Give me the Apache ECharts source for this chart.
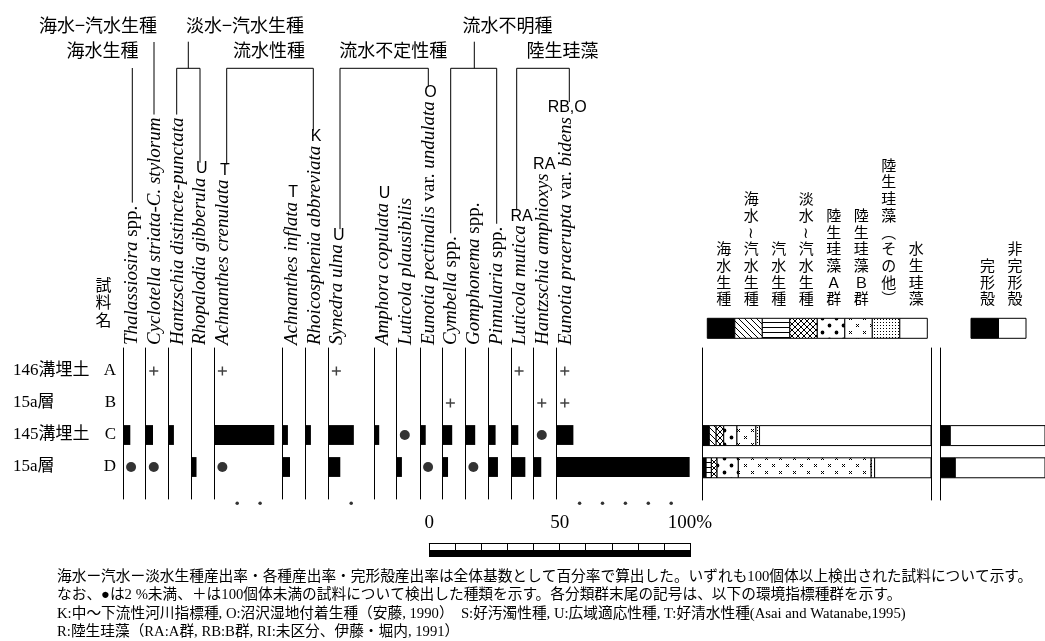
<!DOCTYPE html>
<html lang="ja">
<head>
<meta charset="UTF-8">
<title>珪藻化石群集</title>
<script src="https://cdn.jsdelivr.net/npm/echarts@6/dist/echarts.min.js"></script>
<style>
    body { margin: 0; padding: 0; background: #fff; overflow: hidden; }
    #chart { width: 1045px; height: 641px; }
</style>
</head>
<body>
<div id="chart"></div>
<script>
// ---- data ----
const sampleCodes = ['A', 'B', 'C', 'D'];
const sampleNames = ['146溝埋土', '15a層', '145溝埋土', '15a層'];
const speciesNames = [
    '{i|Thalassiosira} spp.',
    '{i|Cyclotella striata-C. stylorum}',
    '{i|Hantzschia distincte-punctata}',
    '{i|Rhopalodia gibberula}',
    '{i|Achnanthes crenulata}',
    '{i|Achnanthes inflata}',
    '{i|Rhoicosphenia abbreviata}',
    '{i|Synedra ulna}',
    '{i|Amphora copulata}',
    '{i|Luticola plausibilis}',
    '{i|Eunotia pectinalis} var. {i|undulata}',
    '{i|Cymbella} spp.',
    '{i|Gomphonema} spp.',
    '{i|Pinnularia} spp.',
    '{i|Luticola mutica}',
    '{i|Hantzschia amphioxys}',
    '{i|Eunotia praerupta} var. {i|bidens}'
];
const speciesMarks = ['', '', '', 'U', 'T', 'T', 'K', 'U', 'U', '', 'O', '', '', '', 'RA', 'RA', 'RB,O'];
// %, '●' = under 2 %, '+' = found in sample with < 100 valves
const sampleA = ['', '+', '', '', '+', '', '', '+', '', '', '', '', '', '', '+', '', '+'];
const sampleB = ['', '', '', '', '', '', '', '', '', '', '', '+', '', '', '', '+', '+'];
const sampleC = [2.8, 2.8, 2.0, '', 23.0, 2.0, 2.0, 9.8, 2.0, '●', 2.2, 3.8, 3.8, 2.8, 2.8, '●', 6.4];
const sampleD = ['●', '●', '', 2.0, '●', 2.8, '', 4.6, '', 2.0, '●', 2.2, '●', 3.7, 5.5, 2.9, 51.0];
const slotDots = [0, 0, 0, 0, 2, 0, 0, 1, 0, 0, 0, 0, 0, 0, 0, 0, 5];

const groupNames = ['海水生種', '海水〜汽水生種', '汽水生種', '淡水〜汽水生種', '陸生珪藻A群', '陸生珪藻B群', '陸生珪藻(その他)', '水生珪藻'];
const groupC = [2.9, 3.0, 0, 3.3, 5.8, 8.3, 1.6, 75.1];
const groupD = [1.5, 0, 2.3, 2.5, 9.3, 58.2, 1.5, 24.7];
const shellNames = ['完形殻', '非完形殻'];
const shellC = [9.2, 90.8];
const shellD = [14.0, 86.0];
const scaleLabels = { 0: '0', 50: '50', 100: '100%' };

const headers = [
    { name: '海水−汽水生種', x: 98, y: 25, members: [1], from: 42 },
    { name: '海水生種', x: 102.5, y: 50, members: [0], from: 68 },
    { name: '淡水−汽水生種', x: 245, y: 25, members: [2, 3], stem: 188.3 },
    { name: '流水性種', x: 269, y: 50, members: [4, 6] },
    { name: '流水不定性種', x: 393.3, y: 50, members: [7, 10] },
    { name: '流水不明種', x: 507.5, y: 25, members: [11, 13], stem: 474.3 },
    { name: '陸生珪藻', x: 562.5, y: 50, members: [14, 16] }
];
const notes = [
    '海水ー汽水ー淡水生種産出率・各種産出率・完形殻産出率は全体基数として百分率で算出した。いずれも100個体以上検出された試料について示す。',
    'なお、●は2 %未満、＋は100個体未満の試料について検出した種類を示す。各分類群末尾の記号は、以下の環境指標種群を示す。',
    'K:中～下流性河川指標種, O:沼沢湿地付着生種（安藤, 1990）　S:好汚濁性種, U:広域適応性種, T:好清水性種(Asai and Watanabe,1995)',
    'R:陸生珪藻（RA:A群, RB:B群, RI:未区分、伊藤・堀内, 1991）'
];

// ---- layout ----
const colX = [123, 145.7, 168.7, 191.3, 214.3, 282.7, 305.7, 328.3, 374, 396.7, 420, 442.3, 465.3, 488.3, 511, 533.7, 556.7];
const leaderX = { 0: 132.3, 1: 154, 2: 176.7, 3: 200, 4: 226.7, 6: 313.3, 7: 340, 10: 428.3, 11: 450.7, 13: 496.7, 14: 516.7, 16: 569.3 };
const PCT_W = 260.7;      // px for 100 %
const COL_STEP = 22.9;
const Y_MIN = 0.28, Y_MAX = 5.0;
const LABEL_BASE = 345;
const SERIF = '"Liberation Serif", "Noto Sans CJK JP"';
const JP = '"Noto Sans CJK JP"';

const mctx = document.createElement('canvas').getContext('2d');
function richWidth(s, size) {
    let w = 0;
    s.replace(/\{i\|([^}]*)\}|([^{]+)/g, (m, it, ro) => {
        mctx.font = (it ? 'italic ' : '') + size + 'px "Liberation Serif"';
        w += mctx.measureText(it || ro).width;
        return m;
    });
    return w;
}

function pattern(w, h, draw) {
    const c = document.createElement('canvas');
    c.width = w; c.height = h;
    const g = c.getContext('2d');
    g.fillStyle = '#fff'; g.fillRect(0, 0, w, h);
    g.strokeStyle = '#000'; g.fillStyle = '#000'; g.lineWidth = 1;
    draw(g, w, h);
    return { image: c, repeat: 'repeat' };
}
const fills = [
    '#000',
    pattern(6, 6, (g) => { g.beginPath(); for (let k = -1; k <= 1; k++) { g.moveTo(k * 6, 0); g.lineTo(k * 6 + 6, 6); } g.stroke(); }),
    pattern(5, 5, (g, w) => { g.fillRect(0, 2, w, 1); }),
    pattern(6, 6, (g) => { g.beginPath(); for (let k = -1; k <= 1; k++) { g.moveTo(k * 6, 0); g.lineTo(k * 6 + 6, 6); g.moveTo(k * 6 + 6, 0); g.lineTo(k * 6, 6); } g.stroke(); }),
    pattern(14, 14, (g) => { g.beginPath(); g.arc(3.5, 3.5, 1.9, 0, 7); g.arc(10.5, 10.5, 1.9, 0, 7); g.fill(); }),
    pattern(14, 14, (g) => { g.beginPath(); [[3.5, 3.5], [10.5, 10.5]].forEach(([x, y]) => { g.moveTo(x - 1.5, y - 1.5); g.lineTo(x + 1.5, y + 1.5); g.moveTo(x + 1.5, y - 1.5); g.lineTo(x - 1.5, y + 1.5); }); g.stroke(); }),
    pattern(3, 3, (g) => { g.fillRect(1, 1, 1, 1); }),
    '#fff'
];
const shellFills = ['#000', '#fff'];

// ---- option ----
const grid = [], xAxis = [], yAxis = [], series = [];
const plusPath = 'path://M4.2,0H5.8V4.2H10V5.8H5.8V10H4.2V5.8H0V4.2H4.2Z';
const samples = [sampleA, sampleB, sampleC, sampleD];

function barItem(params, api) {
    const r = api.value(1);
    const p0 = api.coord([0, r]), p1 = api.coord([api.value(0), r]);
    const h = api.size([0, 1])[1] * 0.62;
    return { type: 'rect', shape: { x: p0[0], y: p0[1] - h / 2, width: p1[0] - p0[0], height: h }, style: { fill: '#000' } };
}

function hiddenY(g) {
    return {
        gridIndex: g, type: 'value', min: Y_MIN, max: Y_MAX, inverse: true,
        axisLine: { show: true, onZero: false, lineStyle: { color: '#000', width: 1 } },
        axisTick: { show: false }, axisLabel: { show: false }, splitLine: { show: false }
    };
}

speciesNames.forEach((name, i) => {
    grid.push({ left: colX[i], top: 348, width: PCT_W, height: 151 });
    xAxis.push({ gridIndex: i, type: 'value', min: 0, max: 100, show: false });
    yAxis.push(hiddenY(i));
    const bars = [], dots = [], plus = [];
    samples.forEach((s, r) => {
        const v = s[i];
        if (typeof v === 'number') bars.push([v, r + 1]);
        else if (v === '●') dots.push([3.1, r + 1]);
        else if (v === '+') plus.push([3.1, r + 1]);
    });
    series.push({ type: 'custom', xAxisIndex: i, yAxisIndex: i, renderItem: barItem, encode: { x: 0, y: 1 }, data: bars, silent: true });
    series.push({ type: 'scatter', xAxisIndex: i, yAxisIndex: i, symbol: 'circle', symbolSize: 10, itemStyle: { color: '#000' }, data: dots, silent: true, clip: false });
    series.push({ type: 'scatter', xAxisIndex: i, yAxisIndex: i, symbol: plusPath, symbolSize: 9, itemStyle: { color: '#111' }, data: plus, silent: true, clip: false });
    const slots = [];
    for (let k = 1; k <= slotDots[i]; k++) slots.push([k * COL_STEP / PCT_W * 100, 5.135]);
    series.push({ type: 'scatter', xAxisIndex: i, yAxisIndex: i, symbol: 'circle', symbolSize: 3.5, itemStyle: { color: '#000' }, data: slots, silent: true, clip: false });
});

// group composition panel
const gR = grid.length;
grid.push({ left: 702.7, top: 348, width: 228.3, height: 152 });
xAxis.push({ gridIndex: gR, type: 'value', min: 0, max: 100, show: false });
const yR = yAxis.length;
yAxis.push(hiddenY(gR));
yAxis.push(Object.assign(hiddenY(gR), { position: 'right' }));

function stackData(rows) {
    const out = [];
    rows.forEach(([vals, r]) => {
        let acc = 0;
        vals.forEach((v, k) => {
            if (v > 0) out.push([acc, acc + v, r, k]);
            acc += v;
        });
    });
    return out;
}
function segItem(fillsArr) {
    return (params, api) => {
        const r = api.value(2);
        const p0 = api.coord([api.value(0), r]), p1 = api.coord([api.value(1), r]);
        const h = api.size([0, 1])[1] * 0.62;
        return {
            type: 'rect',
            shape: { x: p0[0], y: p0[1] - h / 2, width: p1[0] - p0[0], height: h },
            style: { fill: fillsArr[api.value(3)], stroke: '#000', lineWidth: 1 }
        };
    };
}
series.push({
    type: 'custom', xAxisIndex: gR, yAxisIndex: yR, silent: true,
    renderItem: segItem(fills), encode: { x: [0, 1], y: 2 },
    data: stackData([[groupC, 3], [groupD, 4]])
});

// complete shell panel
const gS = grid.length;
grid.push({ left: 940.7, top: 348, width: 228.3, height: 152 });
xAxis.push({ gridIndex: gS, type: 'value', min: 0, max: 100, show: false });
const yS = yAxis.length;
yAxis.push(hiddenY(gS));
series.push({
    type: 'custom', xAxisIndex: gS, yAxisIndex: yS, silent: true,
    renderItem: segItem(shellFills), encode: { x: [0, 1], y: 2 },
    data: stackData([[shellC, 3], [shellD, 4]])
});

// scale bar
const gB = grid.length;
grid.push({ left: 429.3, top: 543, width: PCT_W, height: 14 });
const xB = xAxis.length;
xAxis.push({
    gridIndex: gB, type: 'value', min: 0, max: 100, interval: 10, position: 'top',
    axisLine: { show: true, onZero: false, lineStyle: { color: '#000' } },
    axisTick: { show: true, inside: true, length: 7, lineStyle: { color: '#000' } },
    axisLabel: { show: false }, splitLine: { show: false }
});
xAxis.push({
    gridIndex: gB, type: 'value', min: 0, max: 100, interval: 50, position: 'top',
    axisLine: { show: false },
    axisTick: { show: true, length: 8, lineStyle: { color: '#000' } },
    axisLabel: { show: true, margin: 10, color: '#000', fontFamily: 'Liberation Serif', fontSize: 19, formatter: v => scaleLabels[v] },
    splitLine: { show: false }
});
const yB = yAxis.length;
yAxis.push({ gridIndex: gB, type: 'value', min: 0, max: 2, show: false });
series.push({
    type: 'custom', xAxisIndex: xB, yAxisIndex: yB, silent: true,
    renderItem: (params, api) => {
        const p0 = api.coord([api.value(0), 1]), p1 = api.coord([api.value(1), 0]);
        return { type: 'rect', shape: { x: p0[0], y: p0[1], width: p1[0] - p0[0], height: p1[1] - p0[1] }, style: { fill: '#000' } };
    },
    encode: { x: [0, 1] },
    data: [[0, 100]]
});

// ---- graphic texts and lines ----
const gfx = [];
function text(x, y, t, font, align, vAlign, extra) {
    return Object.assign({
        type: 'text', x: x, y: y, silent: true,
        style: { text: t, font: font, fill: '#000', textAlign: align, align: align, textVerticalAlign: vAlign, verticalAlign: vAlign }
    }, extra || {});
}
function line(x1, y1, x2, y2) {
    return { type: 'line', silent: true, shape: { x1, y1, x2, y2 }, style: { stroke: '#000', lineWidth: 1 } };
}

const LABEL_SIZE = 19;
const leaderEnd = {};
speciesNames.forEach((name, i) => {
    const top = LABEL_BASE - richWidth(name, LABEL_SIZE);
    const el = text(colX[i] + 9, LABEL_BASE, name, LABEL_SIZE + 'px "Liberation Serif"', 'left', 'middle', { rotation: Math.PI / 2 });
    el.style.rich = { i: { font: 'italic ' + LABEL_SIZE + 'px "Liberation Serif"', fontStyle: 'italic', fontSize: LABEL_SIZE, fontFamily: 'Liberation Serif' } };
    gfx.push(el);
    if (speciesMarks[i]) {
        const my = top - 9;
        gfx.push(text(colX[i] + 10.5, my, speciesMarks[i], '16px "Liberation Sans"', 'center', 'middle'));
        leaderEnd[i] = my - 6;
    } else {
        leaderEnd[i] = top - 3;
    }
});

headers.forEach(h => {
    gfx.push(text(h.x, h.y, h.name, '18px ' + JP, 'center', 'middle'));
    const a = h.members[0], b = h.members[h.members.length - 1];
    if (h.members.length === 1) {
        gfx.push(line(leaderX[a], h.from, leaderX[a], leaderEnd[a]));
    } else {
        gfx.push(line(leaderX[a], 68.3, leaderX[b], 68.3));
        gfx.push(line(leaderX[a], 68.3, leaderX[a], leaderEnd[a]));
        gfx.push(line(leaderX[b], 68.3, leaderX[b], leaderEnd[b]));
        if (h.stem) gfx.push(line(h.stem, 41.7, h.stem, 68.3));
    }
});

const sampleTitle = text(103.5, 302, '試\n料\n名', '16px ' + JP, 'center', 'middle');
sampleTitle.style.lineHeight = 17.5;
gfx.push(sampleTitle);

sampleNames.forEach((n, r) => {
    const y = 371 + 32 * r;
    gfx.push(text(13, y, n, '17px ' + SERIF, 'left', 'middle'));
    gfx.push(text(116, y, sampleCodes[r], '17px ' + SERIF, 'right', 'middle'));
});

function vertical(s) {
    return s.replace(/〜/g, '≀').replace(/\(/g, '︵').replace(/\)/g, '︶')
        .replace(/A/g, 'Ａ').replace(/B/g, 'Ｂ').split('').join('\n');
}
groupNames.forEach((n, k) => {
    const x0 = 707.3 + 27.5 * k;
    gfx.push({ type: 'rect', silent: true, shape: { x: x0, y: 318.3, width: 27.5, height: 20 }, style: { fill: fills[k], stroke: '#000', lineWidth: 1 } });
    const t = text(x0 + 16.5, 307, vertical(n), '15px ' + JP, 'center', 'bottom');
    t.style.lineHeight = 16.7;
    gfx.push(t);
});
shellNames.forEach((n, k) => {
    const x0 = 971 + 27.5 * k;
    gfx.push({ type: 'rect', silent: true, shape: { x: x0, y: 318.3, width: 27.5, height: 20 }, style: { fill: shellFills[k], stroke: '#000', lineWidth: 1 } });
    const t = text(x0 + 16.5, 307, vertical(n), '15px ' + JP, 'center', 'bottom');
    t.style.lineHeight = 16.7;
    gfx.push(t);
});

notes.forEach((n, k) => {
    gfx.push(text(57, 577 + 18.5 * k, n, '14.7px ' + SERIF, 'left', 'middle'));
});

const chart = echarts.init(document.getElementById('chart'));
chart.setOption({
    animation: false,
    backgroundColor: '#fff',
    grid: grid,
    xAxis: xAxis,
    yAxis: yAxis,
    series: series,
    graphic: { elements: gfx }
});
</script>
</body>
</html>
